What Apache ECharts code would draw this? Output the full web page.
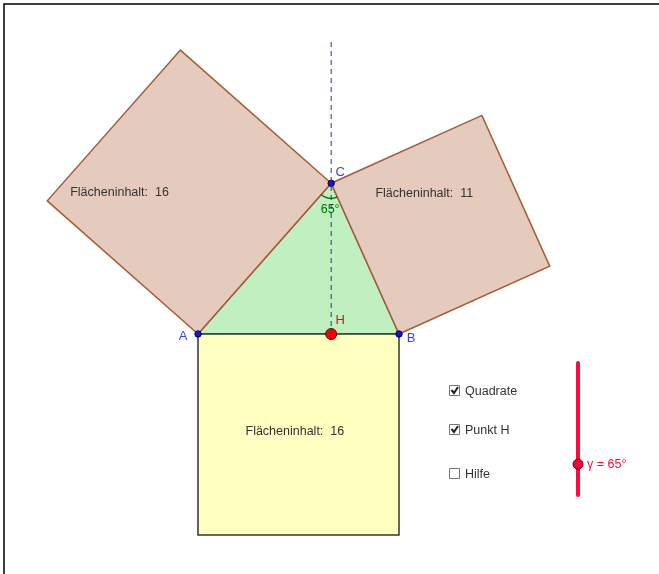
<!DOCTYPE html>
<html>
<head>
<meta charset="utf-8">
<title>Satz des Pythagoras – Winkel γ</title>
<script src="https://cdn.jsdelivr.net/npm/echarts@6/dist/echarts.min.js"></script>
<style>
  html, body { margin: 0; padding: 0; background: #fff; }
  #chart { width: 659px; height: 574px; }
</style>
</head>
<body>
<div id="chart"></div>
<script>
// triangle vertices (construction units)
const pointNames = ['A', 'B', 'C'];
const pointX = [0, 4, 2.65];
const pointY = [0, 0, 3.0];

// slider for the angle at C
const gamma = 65;
const gammaMin = 30;
const gammaMax = 180;

// checkboxes on the right
const checkboxLabels = ['Quadrate', 'Punkt H', 'Hilfe'];
const checkboxChecked = [true, true, false];

const font = "'Liberation Sans', Arial, sans-serif";
const scale = 50.25; // px per unit
const originPx = [198, 334];
const W = 659, H = 574;

const P = pointNames.map((n, i) => [pointX[i], pointY[i]]);
const foot = [pointX[2], 0]; // H, foot of the altitude from C

// edges of the triangle (counter-clockwise), outer squares sit on them
const edges = [[0, 1], [1, 2], [2, 0]];
const squareFill = ['#ffffc0', '#e5cbbe', '#e5cbbe'];
const squareStroke = ['#333333', '#a65a35', '#a65a35'];
// label offsets in px relative to square centre
const labelShift = [[-53, -3], [-65, -31], [-119, 1]];

function squareOf(e) {
  const p = P[edges[e][0]], q = P[edges[e][1]];
  const dx = q[0] - p[0], dy = q[1] - p[1];
  const n = [dy, -dx];
  return [p, q, [q[0] + n[0], q[1] + n[1]], [p[0] + n[0], p[1] + n[1]]];
}

const chart = echarts.init(document.getElementById('chart'));

const sliderX = 578, sliderTop = 363, sliderBottom = 495;
const handleY = sliderBottom - (gamma - gammaMin) / (gammaMax - gammaMin) * (sliderBottom - sliderTop);

const graphics = [
  { type: 'polyline', shape: { points: [[4, 574], [4, 4], [659, 4]] }, style: { stroke: '#000', lineWidth: 1.5, fill: null } },
  { type: 'line', shape: { x1: sliderX, y1: sliderTop, x2: sliderX, y2: sliderBottom }, style: { stroke: '#ff0a3c', lineWidth: 4, lineCap: 'round' } },
  { type: 'circle', shape: { cx: sliderX, cy: handleY, r: 5 }, style: { fill: '#ee0a35', stroke: '#5a0010', lineWidth: 1 } },
  { type: 'text', x: sliderX + 9, y: handleY, style: { text: 'γ = ' + gamma + '°', fill: '#ff0a3c', font: '12.5px ' + font, verticalAlign: 'middle' } }
];
const boxY = [391, 430, 474];
checkboxLabels.forEach((lab, i) => {
  graphics.push({ type: 'rect', shape: { x: 449.5, y: boxY[i] - 5.5, width: 10, height: 10 }, style: { fill: '#fff', stroke: '#777', lineWidth: 1 } });
  if (checkboxChecked[i]) {
    graphics.push({ type: 'polyline', shape: { points: [[451.5, boxY[i] - 1], [454, boxY[i] + 2], [458, boxY[i] - 4]] }, style: { stroke: '#222', lineWidth: 2, fill: null } });
  }
  graphics.push({ type: 'text', x: 465, y: boxY[i] + 0.5, style: { text: lab, fill: '#333', font: '12.5px ' + font, verticalAlign: 'middle' } });
});

const pointLabelOffset = [[-15, 2], [12, 4], [9, -11]];

chart.setOption({
  animation: false,
  grid: { left: 0, right: 0, top: 0, bottom: 0 },
  xAxis: { type: 'value', min: -originPx[0] / scale, max: (W - originPx[0]) / scale, show: false },
  yAxis: { type: 'value', min: -(H - originPx[1]) / scale, max: originPx[1] / scale, show: false },
  graphic: graphics,
  series: [
    {
      // triangle
      type: 'custom',
      data: [0],
      renderItem: (params, api) => ({
        type: 'polygon',
        shape: { points: P.map(p => api.coord(p)) },
        style: { fill: '#c0f0c0', stroke: '#555', lineWidth: 1.5 }
      })
    },
    {
      // squares on the sides
      type: 'custom',
      data: [0, 1, 2],
      renderItem: (params, api) => {
        const e = api.value(0);
        const sq = squareOf(e);
        const pts = sq.map(p => api.coord(p));
        const cx = (pts[0][0] + pts[1][0] + pts[2][0] + pts[3][0]) / 4;
        const cy = (pts[0][1] + pts[1][1] + pts[2][1] + pts[3][1]) / 4;
        const p = P[edges[e][0]], q = P[edges[e][1]];
        const area = Math.round((q[0] - p[0]) ** 2 + (q[1] - p[1]) ** 2);
        return {
          type: 'group',
          children: [
            { type: 'polygon', shape: { points: pts }, style: { fill: squareFill[e], stroke: squareStroke[e], lineWidth: 1.5 } },
            { type: 'text', x: cx + labelShift[e][0], y: cy + labelShift[e][1],
              style: { text: 'Flächeninhalt:  ' + area, fill: '#333', font: '12.5px ' + font, verticalAlign: 'middle' } }
          ]
        };
      }
    },
    {
      // altitude through C
      type: 'line',
      data: [[pointX[2], (originPx[1] - 42) / scale], foot],
      showSymbol: false,
      lineStyle: { color: '#283488', width: 1, type: [5, 4] },
      silent: true
    },
    {
      // angle at C
      type: 'custom',
      data: [0],
      renderItem: (params, api) => {
        const c = api.coord(P[2]), a = api.coord(P[0]), b = api.coord(P[1]);
        const aa = Math.atan2(a[1] - c[1], a[0] - c[0]);
        const ab = Math.atan2(b[1] - c[1], b[0] - c[0]);
        return {
          type: 'group',
          children: [
            { type: 'arc', shape: { cx: c[0], cy: c[1], r: 15, startAngle: ab, endAngle: aa, clockwise: true },
              style: { stroke: '#006400', lineWidth: 1.2, fill: null } },
            { type: 'text', x: c[0] - 1, y: c[1] + 26,
              style: { text: gamma + '°', fill: '#007000', font: '12.5px ' + font, align: 'center', verticalAlign: 'middle' } }
          ]
        };
      }
    },
    {
      // vertices A, B, C
      type: 'custom',
      data: P.map((p, i) => [p[0], p[1], i]),
      renderItem: (params, api) => {
        const c = api.coord([api.value(0), api.value(1)]);
        const i = api.value(2);
        const off = pointLabelOffset[i];
        return {
          type: 'group',
          children: [
            { type: 'circle', shape: { cx: c[0], cy: c[1], r: 3.2 }, style: { fill: '#1414d2', stroke: '#00005a', lineWidth: 1 } },
            { type: 'text', x: c[0] + off[0], y: c[1] + off[1],
              style: { text: pointNames[i], fill: '#3c3cff', font: '13px ' + font, align: 'center', verticalAlign: 'middle' } }
          ]
        };
      }
    },
    {
      // foot point H
      type: 'custom',
      data: [foot],
      renderItem: (params, api) => {
        const c = api.coord([api.value(0), api.value(1)]);
        return {
          type: 'group',
          children: [
            { type: 'circle', shape: { cx: c[0], cy: c[1], r: 5.5 }, style: { fill: '#ff0000', stroke: '#640000', lineWidth: 1 } },
            { type: 'text', x: c[0] + 9, y: c[1] - 14,
              style: { text: 'H', fill: '#ff0000', font: '13px ' + font, align: 'center', verticalAlign: 'middle' } }
          ]
        };
      }
    }
  ]
});
</script>
</body>
</html>
